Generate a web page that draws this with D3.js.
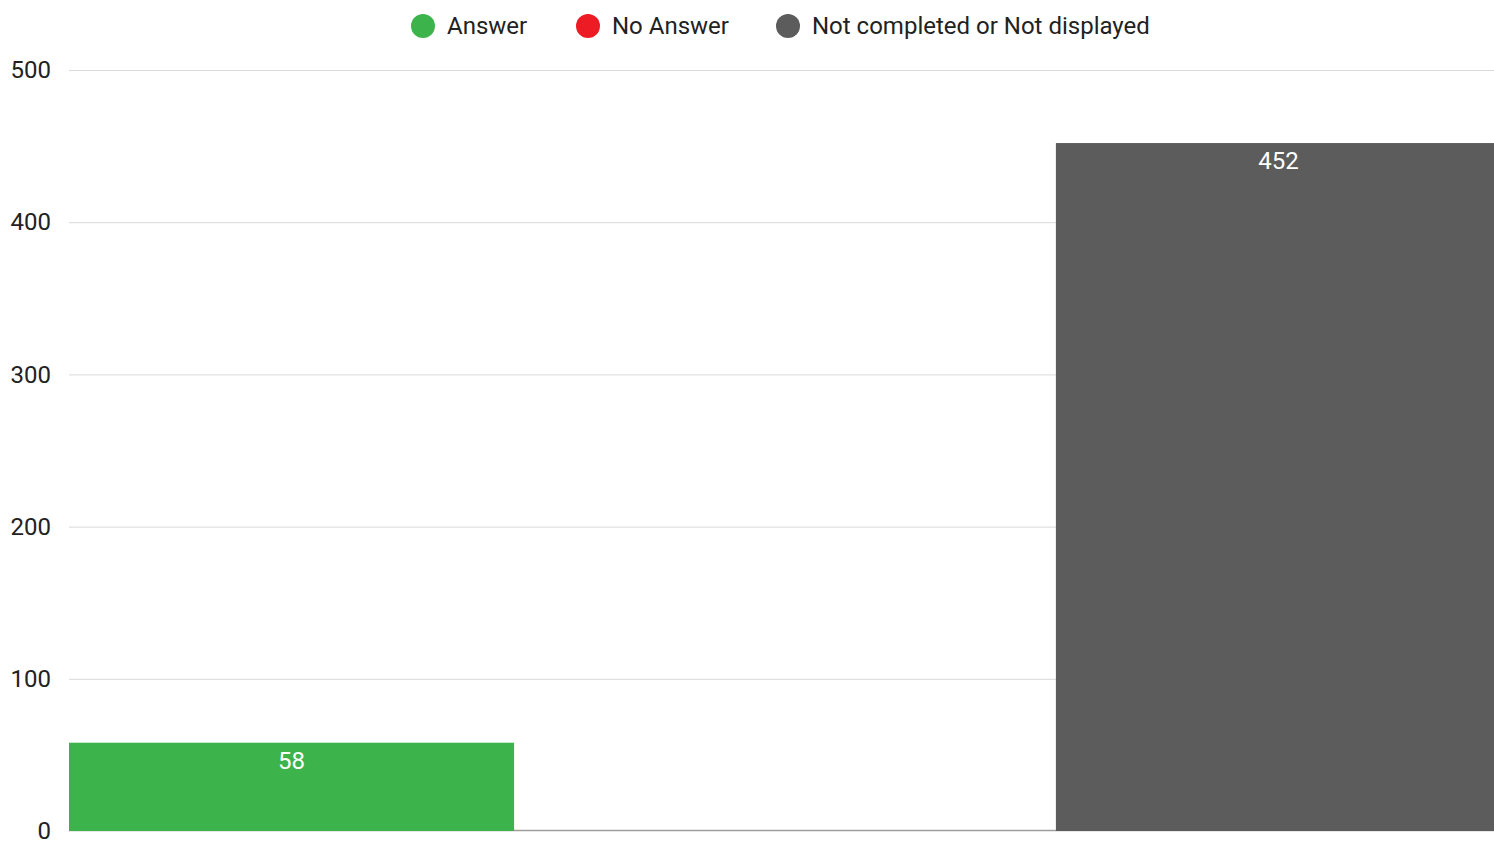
<!DOCTYPE html>
<html>
<head>
<meta charset="utf-8">
<script src="https://cdn.jsdelivr.net/npm/d3@7"></script>
<style>
  html, body { margin: 0; padding: 0; background: #fff; overflow: hidden; }
  svg { display: block; font-family: Roboto, "Noto Sans", sans-serif; }
</style>
</head>
<body>
<div id="chart"></div>
<script>
// chart data
const categories = ["Answer", "No Answer", "Not completed or Not displayed"];
const values = [58, 0, 452];
const colors = ["#3cb34b", "#ed1c24", "#5c5c5c"];
const yTicks = [0, 100, 200, 300, 400, 500];

const width = 1494, height = 842;

const svg = d3.select('#chart').append('svg')
    .attr('width', width)
    .attr('height', height);

const x = d3.scaleBand()
    .domain(categories)
    .range([69, 1501])
    .paddingInner(0.098)
    .paddingOuter(0);

const y = d3.scaleLinear()
    .domain([0, 500])
    .range([831, 70]);

// gridlines
svg.append('g')
    .selectAll('line')
    .data(yTicks.filter(d => d > 0))
    .enter()
    .append('line')
    .attr('x1', 69)
    .attr('x2', width)
    .attr('y1', d => y(d) + 0.5)
    .attr('y2', d => y(d) + 0.5)
    .attr('stroke', '#d9d9d9')
    .attr('stroke-width', 1);

// y axis labels
const yAxis = d3.axisLeft(y).tickValues(yTicks).tickSize(0).tickPadding(18);
const yg = svg.append('g')
    .attr('transform', 'translate(69,0)')
    .call(yAxis);
yg.select('.domain').remove();
yg.selectAll('text')
    .attr('font-size', 24)
    .attr('fill', '#222')
    .attr('font-family', 'Roboto, sans-serif');

// baseline
svg.append('line')
    .attr('x1', 69)
    .attr('x2', width)
    .attr('y1', y(0) - 0.5)
    .attr('y2', y(0) - 0.5)
    .attr('stroke', '#9e9e9e')
    .attr('stroke-width', 1.5);

// bars
svg.append('g')
    .selectAll('rect')
    .data(values)
    .enter()
    .append('rect')
    .attr('x', (d, i) => x(categories[i]))
    .attr('y', d => y(d))
    .attr('width', x.bandwidth())
    .attr('height', d => y(0) - y(d))
    .attr('fill', (d, i) => colors[i]);

// value labels
svg.append('g')
    .selectAll('text')
    .data(values)
    .enter()
    .filter(d => d > 0)
    .append('text')
    .attr('x', (d, i) => x(categories[values.indexOf(d)]) + x.bandwidth() / 2)
    .attr('y', d => y(d) + 26)
    .attr('text-anchor', 'middle')
    .attr('font-size', 24)
    .attr('fill', '#fff')
    .text(d => d);

// legend
const legendX = [423, 588, 788];
const legend = svg.append('g');
categories.forEach((c, i) => {
    legend.append('circle')
        .attr('cx', legendX[i])
        .attr('cy', 26)
        .attr('r', 12)
        .attr('fill', colors[i]);
    legend.append('text')
        .attr('x', legendX[i] + 24)
        .attr('y', 34)
        .attr('font-size', 24)
        .attr('fill', '#222')
        .text(c);
});
</script>
</body>
</html>
